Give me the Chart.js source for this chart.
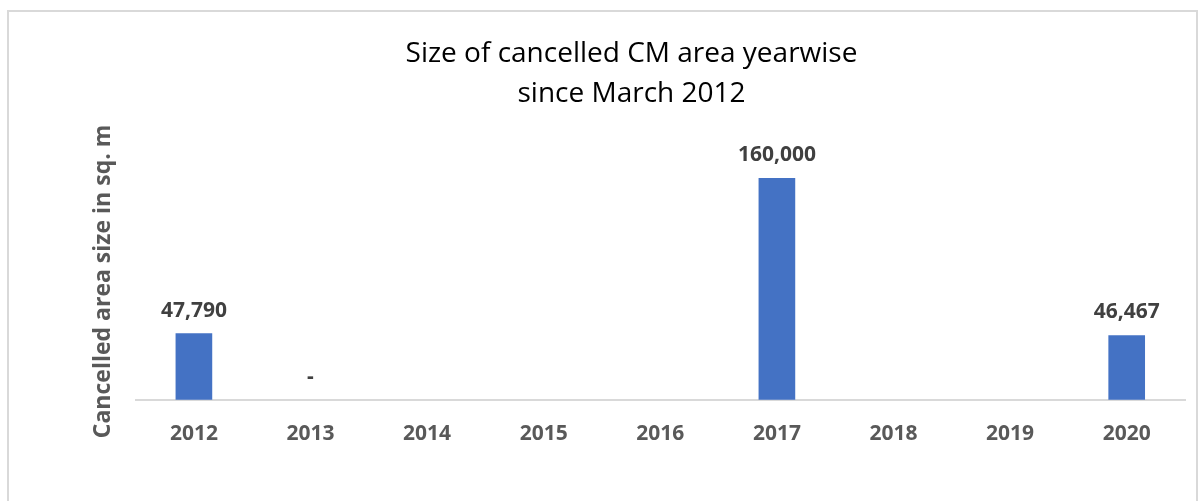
<!DOCTYPE html>
<html>
<head>
<meta charset="utf-8">
<script src="https://cdn.jsdelivr.net/npm/chart.js@4"></script>
<style>
    html, body { margin: 0; padding: 0; background: #fff; overflow: hidden; width: 1198px; height: 501px; }
    #frame {
        position: absolute; left: 7px; top: 10px; width: 1187px; height: 491px;
        border-left: 2px solid #d9d9d9; border-top: 2px solid #d9d9d9; border-right: 2px solid #d9d9d9;
    }
    #wrap { position: absolute; left: 0; top: 0; width: 1198px; height: 501px; }
</style>
</head>
<body>
<div id="frame"></div>
<div id="wrap"><canvas id="areaChart"></canvas></div>
<script>
const years = ['2012', '2013', '2014', '2015', '2016', '2017', '2018', '2019', '2020'];
// null = no label at all, 0 = shown as "-"
const cancelledArea = [47790, 0, null, null, null, 160000, null, null, 46467];
const titleLines = ['Size of cancelled CM area yearwise', 'since March 2012'];
const yTitle = 'Cancelled area size in sq. m';

const valueLabels = {
    id: 'valueLabels',
    afterDatasetsDraw(chart) {
        const ctx = chart.ctx;
        const meta = chart.getDatasetMeta(0);
        ctx.save();
        ctx.font = 'bold 21px "Open Sans"';
        ctx.fillStyle = '#404040';
        ctx.textAlign = 'center';
        ctx.textBaseline = 'middle';
        meta.data.forEach((bar, i) => {
            const v = cancelledArea[i];
            if (v === null) return;
            const text = v === 0 ? '-' : v.toLocaleString('en-US');
            ctx.fillText(text, bar.x, bar.y - 23);
        });
        ctx.restore();
    }
};

// the y title sits a bit below the middle of the plot in the original,
// so space is kept by the axis title and the text is drawn here
const yTitleDraw = {
    id: 'yTitleDraw',
    afterDraw(chart) {
        const ctx = chart.ctx;
        const area = chart.chartArea;
        ctx.save();
        ctx.translate(area.left - 32, (area.top + area.bottom) / 2 + 20);
        ctx.rotate(-Math.PI / 2);
        ctx.font = 'bold 23px "Open Sans"';
        ctx.fillStyle = '#595959';
        ctx.textAlign = 'center';
        ctx.textBaseline = 'middle';
        ctx.fillText(yTitle, 0, 0);
        ctx.restore();
    }
};

new Chart(document.getElementById('areaChart').getContext('2d'), {
    type: 'bar',
    data: {
        labels: years,
        datasets: [{
            data: cancelledArea,
            backgroundColor: cancelledArea.map(v => v ? '#4472c4' : 'rgba(0,0,0,0)'),
            borderWidth: 0,
            barThickness: 36
        }]
    },
    options: {
        responsive: true,
        maintainAspectRatio: false,
        animation: false,
        layout: { padding: { top: 34, left: 78, right: 13, bottom: 40 } },
        plugins: {
            legend: { display: false },
            tooltip: { enabled: false },
            title: {
                display: true,
                text: titleLines,
                color: '#000',
                font: { family: '"Open Sans"', size: 28, weight: 'normal', lineHeight: 1.43 },
                padding: { top: 0, bottom: 9 }
            }
        },
        scales: {
            x: {
                grid: { display: false },
                border: { color: '#d9d9d9', width: 2 },
                ticks: {
                    color: '#595959',
                    padding: 14,
                    font: { family: '"Open Sans"', size: 21, weight: 'bold' }
                }
            },
            y: {
                min: 0,
                max: 200000,
                grid: { display: false },
                border: { display: false },
                ticks: { display: false },
                title: {
                    display: true,
                    text: yTitle,
                    color: 'rgba(0,0,0,0)',
                    padding: 11,
                    font: { family: '"Open Sans"', size: 23, weight: 'bold' }
                }
            }
        }
    },
    plugins: [valueLabels, yTitleDraw]
});
</script>
</body>
</html>
